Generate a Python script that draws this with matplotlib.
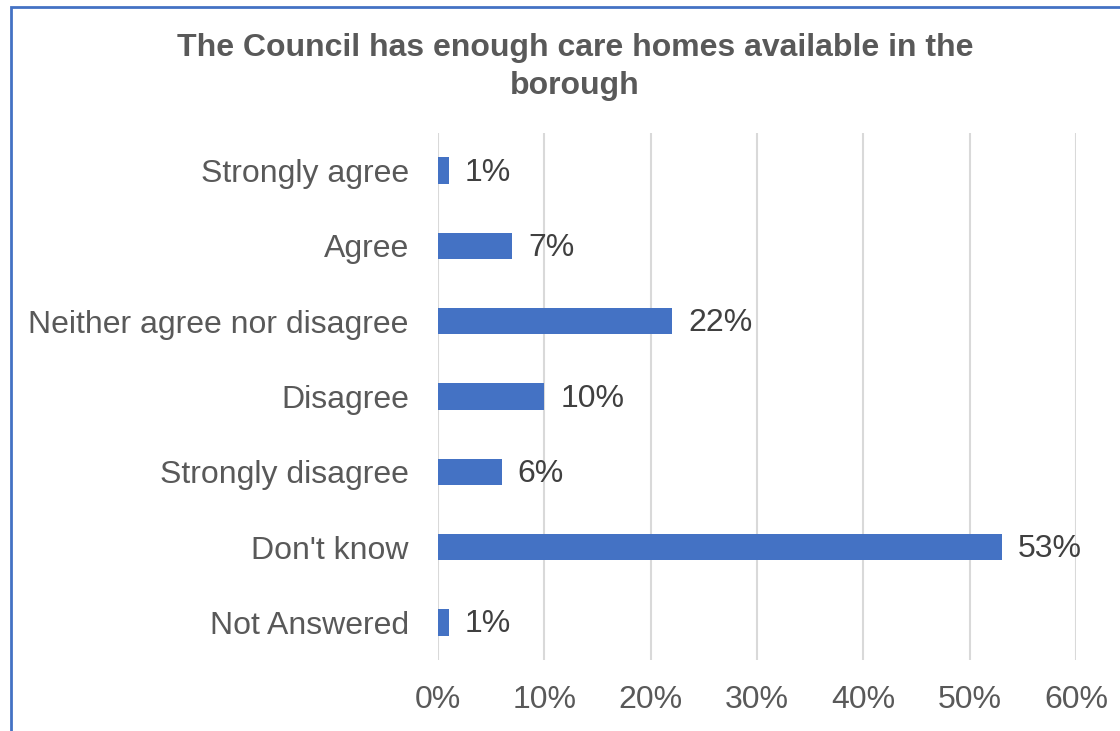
import matplotlib.pyplot as plt
from matplotlib.patches import Rectangle

# Survey responses, top to bottom as shown
responses = ['Strongly agree', 'Agree', 'Neither agree nor disagree', 'Disagree',
             'Strongly disagree', "Don't know", 'Not Answered']
percent = [1, 7, 22, 10, 6, 53, 1]
x_ticks = [0, 10, 20, 30, 40, 50, 60]

plt.rcParams['font.family'] = ['Liberation Sans', 'DejaVu Sans']

W, H = 1120, 731
fig = plt.figure(figsize=(W / 100, H / 100), dpi=100)
ax = fig.add_axes([438 / W, 1 - 660 / H, (1076 - 438) / W, (660 - 133) / H])

y = list(range(len(responses)))
ax.barh(y, percent, height=0.35, color='#4472C4', zorder=3)
for yi, v in zip(y, percent):
    ax.annotate(f'{v}%', (v, yi), xytext=(11.5, -1.5), textcoords='offset points',
                va='center', ha='left', fontsize=23, color='#404040')

ax.set_ylim(len(responses) - 0.5, -0.5)
ax.set_xlim(0, 60)
ax.set_yticks(y)
ax.set_yticklabels(responses)
ax.set_xticks(x_ticks)
ax.set_xticklabels([f'{t}%' for t in x_ticks])
ax.tick_params(axis='y', length=0, pad=21, labelsize=23, labelcolor='#595959')
ax.tick_params(axis='x', length=0, pad=18, labelsize=23, labelcolor='#595959')
ax.grid(axis='x', color='#D9D9D9', linewidth=1.5, zorder=0)
for s in ax.spines.values():
    s.set_visible(False)

fig.text(575 / W, 1 - 67 / H, 'The Council has enough care homes available in the\nborough',
         ha='center', va='center', fontsize=23, fontweight='bold', color='#595959',
         linespacing=1.35)

# chart frame
fig.patches.append(Rectangle((11 / W, -0.1), 1.2, 1 - 7 / H + 0.1, transform=fig.transFigure,
                             fill=False, edgecolor='#4472C4', linewidth=2))

fig.savefig('out.png', dpi=100)
